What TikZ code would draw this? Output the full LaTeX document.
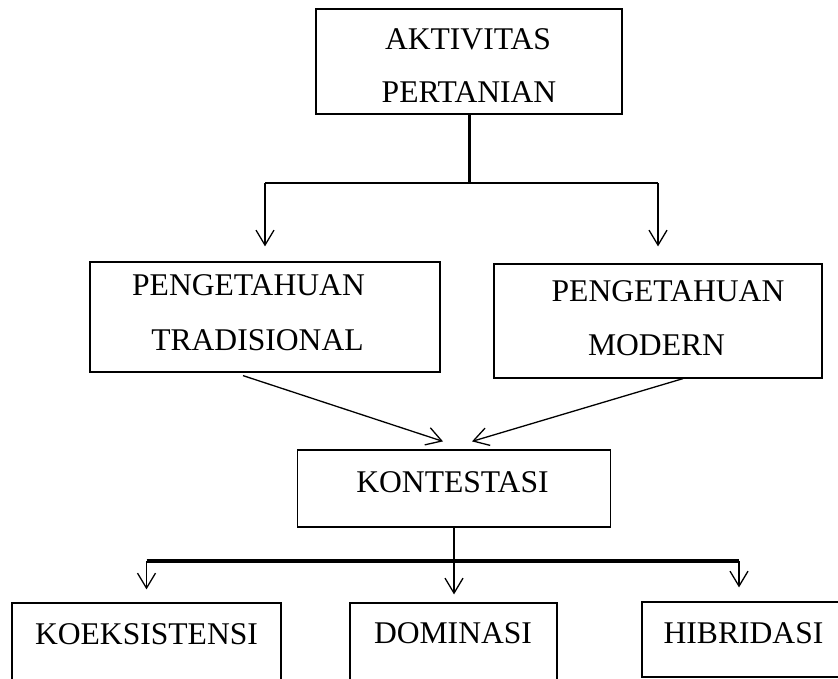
\documentclass[tikz,border=0pt]{standalone}
\usepackage{fontspec}
\setmainfont{Liberation Serif}
\usetikzlibrary{arrows.meta}
\begin{document}
\begin{tikzpicture}[x=1pt,y=-1pt,
  box/.style={draw, line width=1.2pt, rectangle, inner sep=0pt},
  lbl/.style={inner sep=0pt, font=\fontsize{31.6}{38}\selectfont, anchor=base},
  arr/.style={-{Straight Barb[length=15pt,width=18pt,line width=1.3pt]}, line width=1.3pt}]
\useasboundingbox (0,0) rectangle (838,678);
\clip (0,0) rectangle (838,678);
\fill[white] (0,0) rectangle (838,678);
% boxes
\node[box, minimum width=306pt, minimum height=105pt] (top) at (469,61.5) {};
\node[lbl] (t1) at (468,49) {AKTIVITAS};
\node[lbl] (t2) at (469,102) {PERTANIAN};
\node[box, minimum width=350pt, minimum height=110pt] (trad) at (265,317) {};
\node[lbl] (tr1) at (248.5,295) {PENGETAHUAN};
\node[lbl] (tr2) at (257.5,350) {TRADISIONAL};
\node[box, minimum width=328pt, minimum height=114pt] (mod) at (658,321) {};
\node[lbl] (mo1) at (668,301) {PENGETAHUAN};
\node[lbl] (mo2) at (656.5,355) {MODERN};
\node[box, minimum width=313pt, minimum height=77pt] (kon) at (454,488.5) {};
\node[lbl] (ko) at (452.5,492) {KONTESTASI};
\node[box, minimum width=269pt, minimum height=120pt] (koe) at (146.5,663) {};
\node[lbl] (koet) at (146.5,644) {KOEKSISTENSI};
\node[box, minimum width=207pt, minimum height=120pt] (dom) at (453.5,663) {};
\node[lbl] (domt) at (453,643) {DOMINASI};
\node[box, minimum width=210pt, minimum height=75pt] (hib) at (747,639.5) {};
\node[lbl] (hibt) at (743.5,643) {HIBRIDASI};
% top connectors
\coordinate (j1) at (469,183);
\coordinate (jl) at (265,183);
\coordinate (jr) at (658,183);
\draw[line width=3pt] (top.south) -- (j1);
\draw[line width=2.7pt] (jl) -- ([xshift=4pt]j1);
\draw[line width=1.5pt] (j1) -- (jr);
\draw[arr, shorten >=15pt] (jl) -- (jl |- trad.north);
\draw[arr, shorten >=17pt] (jr) -- (jr |- mod.north);
% middle connectors
\draw[arr] ([xshift=-22pt,yshift=-3pt]trad.south) -- ([xshift=-11pt,yshift=8pt]kon.north);
\draw[arr] ([xshift=25pt]mod.south) -- ([xshift=18pt,yshift=8pt]kon.north);
% bottom connectors
\coordinate (b1) at (146.5,561);
\coordinate (b3) at (739,561);
\draw[line width=4pt] (b1) -- (b3);
\draw[arr, shorten >=8pt] (kon.south) -- (kon.south |- dom.north);
\draw[arr, shorten >=13pt] (b1) -- (b1 |- koe.north);
\draw[arr, shorten >=14pt] (b3) -- (b3 |- hib.north);
\end{tikzpicture}
\end{document}
